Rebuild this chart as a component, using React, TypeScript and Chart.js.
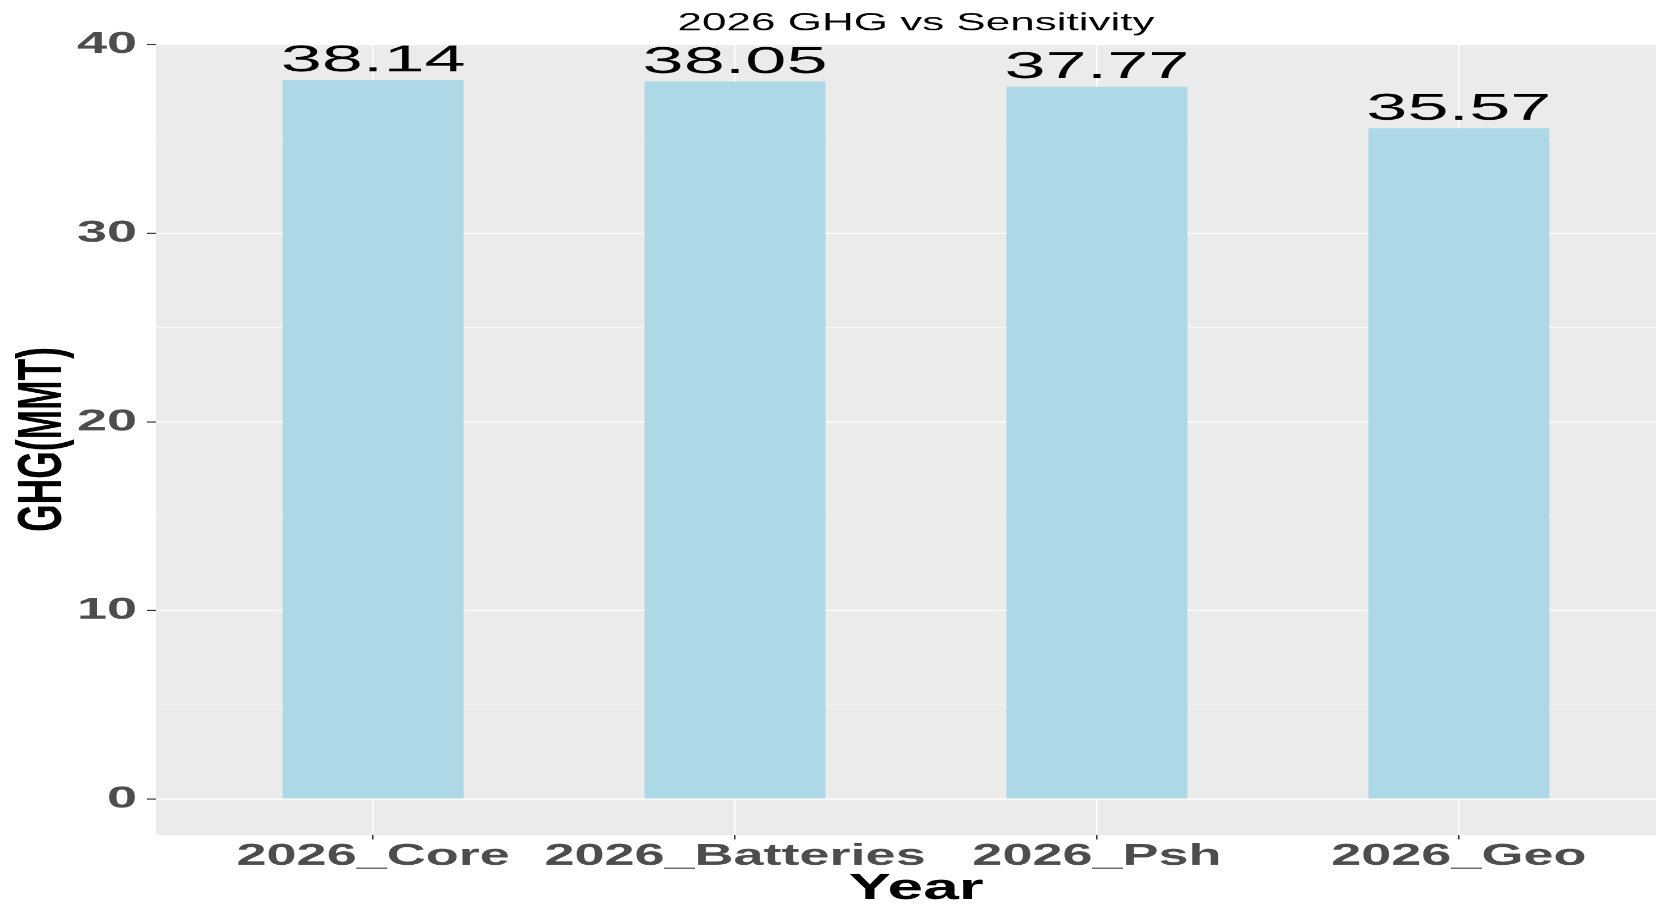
import React, { useEffect, useRef } from 'react';
import { Chart, registerables } from 'chart.js';

Chart.register(...registerables);

// ---- data ----
const categories = ['2026_Core', '2026_Batteries', '2026_Psh', '2026_Geo'];
const ghgValues = [38.14, 38.05, 37.77, 35.57];
const valueLabels = ['38.14', '38.05', '37.77', '35.57'];
const yMajorTicks = [0, 10, 20, 30, 40];
const yMinorTicks = [5, 15, 25, 35];
const chartTitle = '2026 GHG vs Sensitivity';
const xTitle = 'Year';
const yTitle = 'GHG(MMT)';

// ---- layout (reference is horizontally stretched: render tall, squeeze vertically) ----
const VIEW_W = 1656;
const VIEW_H = 908;
const SQUISH = 1.78;
const CANVAS_W = 1676;
const CANVAS_H = Math.round(VIEW_H * SQUISH);
const FONT = '"Liberation Sans", Arial, Helvetica, sans-serif';

Chart.defaults.font.family = FONT;

const panelBg = {
  id: 'panelBg',
  beforeDraw(chart: any) {
    const { ctx, chartArea: a } = chart;
    ctx.save();
    ctx.fillStyle = '#EBEBEB';
    ctx.fillRect(a.left, a.top, a.right - a.left, a.bottom - a.top);
    ctx.restore();
  },
};

const barLabels = {
  id: 'barLabels',
  afterDatasetsDraw(chart: any) {
    const meta = chart.getDatasetMeta(0);
    const ctx = chart.ctx;
    ctx.save();
    ctx.font = `66px ${FONT}`;
    ctx.fillStyle = '#000000';
    ctx.textAlign = 'center';
    ctx.textBaseline = 'alphabetic';
    meta.data.forEach((bar: any, i: number) => {
      ctx.save();
      ctx.translate(bar.x, bar.y - 15);
      ctx.scale(1.12, 1);
      ctx.fillText(valueLabels[i], 0, 0);
      ctx.restore();
    });
    ctx.restore();
  },
};

const isMajor = (v: number) => yMajorTicks.includes(v);

export default function App() {
  const ref = useRef<HTMLCanvasElement>(null);

  useEffect(() => {
    const maxVal = Math.max(...ghgValues);
    const yMin = -0.05 * maxVal;
    const yMax = maxVal * 1.05;
    const allYTicks = [...yMajorTicks, ...yMinorTicks].sort((a, b) => a - b);

    const chart = new Chart(ref.current as HTMLCanvasElement, {
      type: 'bar',
      data: {
        datasets: [
          {
            data: ghgValues.map((v, i) => ({ x: i + 1, y: v })),
            backgroundColor: '#ADD8E6',
            borderWidth: 0,
            barPercentage: 0.5,
            categoryPercentage: 1,
          },
        ],
      },
      options: {
        animation: false,
        responsive: false,
        devicePixelRatio: 1,
        layout: { padding: 0 },
        plugins: {
          legend: { display: false },
          tooltip: { enabled: false },
          title: {
            display: true,
            text: chartTitle,
            color: '#000000',
            fullSize: false,
            font: { size: 44, weight: 'normal', lineHeight: 1 },
            padding: { top: 20, bottom: 14 },
          },
        },
        scales: {
          x: {
            type: 'linear',
            min: 0.4,
            max: categories.length + 0.6,
            offset: false,
            afterBuildTicks: (axis: any) => {
              axis.ticks = categories.map((_, i) => ({ value: i + 1 }));
            },
            afterFit: (axis: any) => {
              axis.height = 130;
            },
            ticks: {
              autoSkip: false,
              maxRotation: 0,
              minRotation: 0,
              padding: 3,
              color: '#4D4D4D',
              font: { size: 54, weight: 'bold', lineHeight: 1 },
              callback: (v: any) => categories[Math.round(Number(v)) - 1] ?? '',
            },
            grid: {
              offset: false,
              color: '#FFFFFF',
              lineWidth: 1.5,
              drawTicks: true,
              tickLength: 8,
              tickColor: '#333333',
              tickWidth: 1.5,
            },
            border: { display: false },
            title: {
              display: true,
              text: xTitle,
              color: '#000000',
              font: { size: 64, weight: 'bold', lineHeight: 1 },
              padding: { top: 0, bottom: 2 },
            },
          },
          y: {
            type: 'linear',
            min: yMin,
            max: yMax,
            afterBuildTicks: (axis: any) => {
              axis.ticks = allYTicks.map((v) => ({ value: v }));
            },
            afterFit: (axis: any) => {
              axis.width = 156;
            },
            ticks: {
              autoSkip: false,
              padding: 10,
              color: '#4D4D4D',
              font: { size: 54, weight: 'bold', lineHeight: 1 },
              callback: (v: any) => (isMajor(Number(v)) ? String(v) : ''),
            },
            grid: {
              color: '#FFFFFF',
              lineWidth: (c: any) => (c.tick && isMajor(c.tick.value) ? 2.2 : 1.1),
              drawTicks: true,
              tickLength: 9,
              tickColor: (c: any) => (c.tick && isMajor(c.tick.value) ? '#333333' : 'rgba(0,0,0,0)'),
              tickWidth: 2,
            },
            border: { display: false },
            title: {
              display: true,
              text: yTitle,
              color: '#000000',
              font: { size: 63, weight: 'bold', lineHeight: 1 },
              padding: { top: 12, bottom: 0 },
            },
          },
        },
      },
      plugins: [panelBg, barLabels],
    } as any);

    return () => chart.destroy();
  }, []);

  return (
    <div
      style={{
        position: 'fixed',
        left: 0,
        top: 0,
        width: VIEW_W,
        height: VIEW_H,
        overflow: 'hidden',
        background: '#FFFFFF',
      }}
    >
      <canvas
        ref={ref}
        width={CANVAS_W}
        height={CANVAS_H}
        style={{ width: `${CANVAS_W}px`, height: `${VIEW_H}px`, display: 'block' }}
      />
    </div>
  );
}
